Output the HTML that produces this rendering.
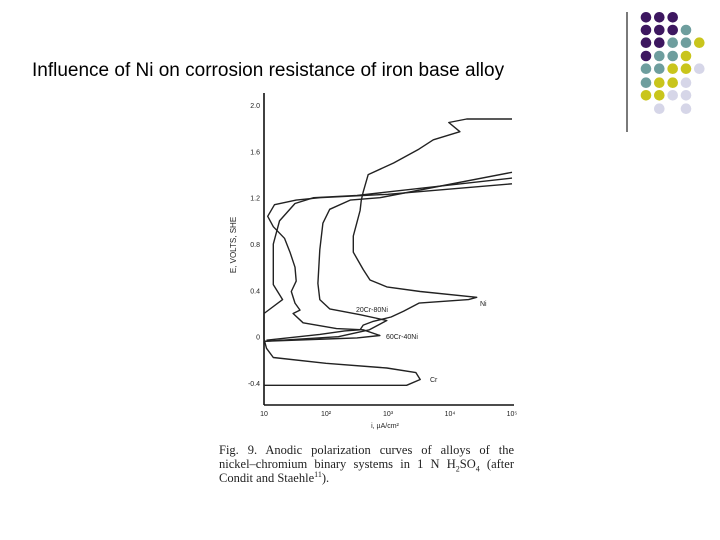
<!DOCTYPE html>
<html><head><meta charset="utf-8"><style>
body{margin:0;background:#fff;}
#root{position:relative;width:720px;height:540px;overflow:hidden;background:#fff;}
.title{position:absolute;left:32px;top:60px;font:19px "Liberation Sans",sans-serif;color:#000;white-space:nowrap;}
.cap{position:absolute;left:219px;width:295px;font:12.5px "Liberation Serif",serif;color:#222;top:443px;}
.cap div{height:14px;line-height:14px;white-space:nowrap;}
.cap .j{text-align:justify;text-align-last:justify;white-space:normal;}
.cap sub,.cap sup{font-size:8px;line-height:0;}
</style></head><body>
<div id="root">
<div class="title">Influence of Ni on corrosion resistance of iron base alloy</div>
<svg id="deco" width="720" height="540" style="position:absolute;left:0;top:0"></svg>
<svg id="chart" width="720" height="540" style="position:absolute;left:0;top:0"></svg>
<div class="cap">
<div class="j">Fig. 9. Anodic polarization curves of alloys of the</div>
<div class="j">nickel–chromium binary systems in 1 N H<sub>2</sub>SO<sub>4</sub> (after</div>
<div>Condit and Staehle<sup>11</sup>).</div>
</div>
</div>
<script>
const NS='http://www.w3.org/2000/svg';
const yTicks=[2.0,1.6,1.2,0.8,0.4,0,-0.4];
const yTickLabels=['2.0','1.6','1.2','0.8','0.4','0','-0.4'];
const xTicks=[1,2,3,4,5];
const xTickLabels=['10','10²','10³','10⁴','10⁵'];
const niLogI=[1.04,1.9,2.3,2.55,2.6,2.75,3.05,3.25,3.5,4.3,4.43,3.52,2.98,2.71,2.6,2.44,2.44,2.49,2.55,2.57,2.6,2.68,3.09,3.5,3.73,4.16,3.98,4.27,5.0];
const niE=[-0.03,0.02,0.05,0.06,0.1,0.13,0.17,0.22,0.29,0.32,0.34,0.39,0.43,0.49,0.58,0.73,0.87,0.97,1.09,1.18,1.25,1.4,1.5,1.62,1.7,1.77,1.85,1.88,1.88];
const c20LogI=[1.0,2.2,2.7,2.98,2.55,2.06,1.9,1.87,1.9,1.95,2.06,2.39,2.87,5.0];
const c20E=[-0.04,0.0,0.06,0.14,0.19,0.24,0.32,0.46,0.75,0.98,1.1,1.18,1.2,1.42];
const c60LogI=[1.0,2.0,2.5,2.87,2.6,2.17,1.63,1.47,1.58,1.5,1.44,1.52,1.5,1.42,1.33,1.15,1.06,1.17,1.52,1.9,3.0,5.0];
const c60E=[-0.04,-0.02,-0.01,0.01,0.06,0.07,0.12,0.2,0.23,0.29,0.39,0.48,0.6,0.73,0.85,0.95,1.04,1.14,1.18,1.2,1.23,1.32];
const crLogI=[1.0,3.3,3.52,3.45,2.98,2.0,1.15,1.04,1.0,1.0,1.3,1.15,1.15,1.25,1.5,1.8,2.5,5.0];
const crE=[-0.42,-0.42,-0.37,-0.31,-0.27,-0.23,-0.18,-0.1,-0.02,0.2,0.32,0.45,0.8,1.0,1.15,1.2,1.22,1.37];
const X0=264,XD=62,Y0=336.7,YV=115.8;
const xs=v=>X0+(v-1)*XD, ys=v=>Y0-v*YV;
const ch=document.getElementById('chart');
function mk(t,a,p){const e=document.createElementNS(NS,t);for(const k in a)e.setAttribute(k,a[k]);(p||ch).appendChild(e);return e;}
let ax=mk('line',{x1:264,y1:93,x2:264,y2:405,stroke:'#111','stroke-width':1.6});


let bx=mk('line',{x1:264,y1:405,x2:514,y2:405,stroke:'#111','stroke-width':1.6});


yTicks.forEach((v,i)=>{const t=mk('text',{x:260,y:ys(v)+3,'text-anchor':'end','font-size':7,'font-family':'Liberation Sans,sans-serif',fill:'#222'});t.textContent=yTickLabels[i];

});
xTicks.forEach((v,i)=>{const t=mk('text',{x:xs(v),y:416,'text-anchor':'middle','font-size':7,'font-family':'Liberation Sans,sans-serif',fill:'#222'});t.textContent=xTickLabels[i];

});
let yt=mk('text',{x:0,y:0,transform:'translate(236,245) rotate(-90)','text-anchor':'middle','font-size':8,'font-family':'Liberation Sans,sans-serif',fill:'#222'});yt.textContent='E, VOLTS, SHE';


let xt=mk('text',{x:385,y:428,'text-anchor':'middle','font-size':7,'font-family':'Liberation Sans,sans-serif',fill:'#222'});xt.textContent='i, µA/cm²';


function curve(L,E,name){let d='';L.forEach((v,i)=>{d+=(i?'L':'M')+xs(v).toFixed(1)+','+ys(E[i]).toFixed(1);});
const p=mk('path',{d:d,fill:'none',stroke:'#222','stroke-width':1.4,'stroke-linejoin':'round'});

}
curve(niLogI,niE,'curve-ni');curve(c20LogI,c20E,'curve-20cr-80ni');curve(c60LogI,c60E,'curve-60cr-40ni');curve(crLogI,crE,'curve-cr');
[['Ni',480,306,'label-ni'],['20Cr-80Ni',356,312,'label-20cr-80ni'],['60Cr-40Ni',386,339,'label-60cr-40ni'],['Cr',430,382,'label-cr']].forEach(a=>{const t=mk('text',{x:a[1],y:a[2],'font-size':7,'font-family':'Liberation Sans,sans-serif',fill:'#222'});t.textContent=a[0];

});
const dg=document.getElementById('deco');
const vl=mk('line',{x1:627,y1:12,x2:627,y2:132,stroke:'#222','stroke-width':1.2},dg);


const C={P:'#3d1760',T:'#6e9e9e',Y:'#c9c51c',L:'#d6d6e8'};
const rows=['PPP','PPPT','PPTTY','PTTY','TTYYL','TYYL','YYLL','.L.L'];
const cx=[646,659.3,672.7,686,699.3],cy=[17.3,30,42.7,56,68.7,82.7,95.3,108.7];
rows.forEach((r,i)=>{[...r].forEach((c,j)=>{if(c==='.')return;const d=mk('circle',{cx:cx[j],cy:cy[i],r:5.3,fill:C[c]},dg);

});});
</script>
</body></html>
